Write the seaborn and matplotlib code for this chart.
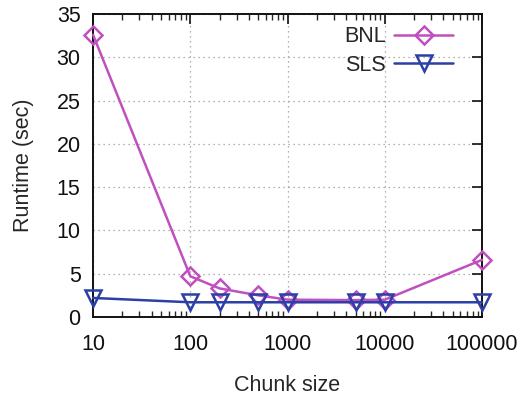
import matplotlib
matplotlib.use("Agg")
import matplotlib.pyplot as plt
import seaborn as sns
import pandas as pd
import numpy as np
from matplotlib.ticker import LogLocator, FixedLocator, NullFormatter

sns.set_style("white")
plt.rcParams['font.family'] = ['Liberation Sans', 'DejaVu Sans']

chunk_sizes = [10, 100, 200, 500, 1000, 5000, 10000, 100000]
bnl_runtime = [32.6, 4.7, 3.3, 2.5, 2.0, 1.95, 2.0, 6.6]
sls_runtime = [2.2, 1.7, 1.7, 1.7, 1.7, 1.7, 1.7, 1.7]
series_names = ["BNL", "SLS"]
x_ticks = [10, 100, 1000, 10000, 100000]
y_ticks = [0, 5, 10, 15, 20, 25, 30, 35]

df = pd.DataFrame({
    "Chunk size": chunk_sizes * 2,
    "Runtime": bnl_runtime + sls_runtime,
    "Series": [series_names[0]] * len(chunk_sizes) + [series_names[1]] * len(chunk_sizes),
})

colors = {"BNL": "#c04fc0", "SLS": "#2b3fa6"}
markers = {"BNL": "D", "SLS": "v"}
msizes = {"BNL": 9.5, "SLS": 11}
FS = 15.5

fig = plt.figure(figsize=(5.2, 4.01), dpi=100)
ax = fig.add_axes([0.179, 0.2095, 0.748, 0.7555])

for name in series_names:
    sub = df[df["Series"] == name]
    sns.lineplot(data=sub, x="Chunk size", y="Runtime", ax=ax, color=colors[name],
                 marker=markers[name], markersize=msizes[name], markerfacecolor="none",
                 markeredgecolor=colors[name], markeredgewidth=1.8, linewidth=1.8,
                 label=name, clip_on=False, zorder=3)

ax.set_xscale("log")
ax.set_xlim(10, 100000)
ax.set_ylim(0, 35)
ax.xaxis.set_major_locator(FixedLocator(x_ticks))
ax.set_xticklabels([str(t) for t in x_ticks])
ax.xaxis.set_minor_locator(LogLocator(base=10, subs=np.arange(2, 10)))
ax.xaxis.set_minor_formatter(NullFormatter())
ax.set_yticks(y_ticks)
ax.set_yticklabels([str(t) for t in y_ticks])

ax.tick_params(axis="both", which="major", direction="in", length=7, width=1.2,
               top=True, right=True, labelsize=FS, colors="#111111")
ax.tick_params(axis="x", which="major", pad=12)
ax.tick_params(axis="y", which="major", pad=9)
ax.tick_params(axis="x", which="minor", direction="in", length=4, width=1.0, top=True, bottom=True)

ax.grid(True, which="major", linestyle=(0, (1, 3)), color="#999999", linewidth=0.9)
for s in ax.spines.values():
    s.set_color("#111111")
    s.set_linewidth(1.4)

ax.set_xlabel("Chunk size", fontsize=FS, labelpad=15)
ax.set_ylabel("Runtime (sec)", fontsize=FS, labelpad=16)

leg = ax.legend(loc="upper right", frameon=False, markerfirst=False, fontsize=FS,
                handlelength=2.75, handletextpad=0.4, borderaxespad=0.3, labelspacing=0.35,
                bbox_to_anchor=(0.965, 1.01))

fig.savefig("out.png", dpi=100)
